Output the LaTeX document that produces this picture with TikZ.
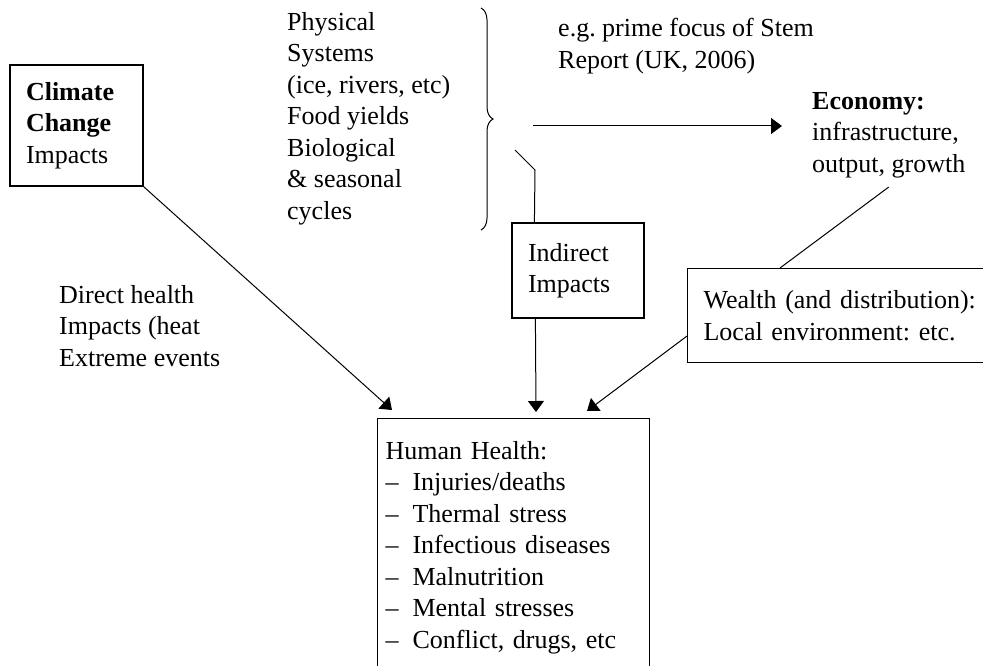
\documentclass[tikz,border=0pt]{standalone}
\usepackage{fontspec}
\setmainfont{Liberation Serif}
\usetikzlibrary{arrows.meta,decorations.pathreplacing}
\newcommand\hhdash{\makebox[27pt][l]{–}}
\frenchspacing
\begin{document}
\begin{tikzpicture}[x=1pt,y=-1pt,
  txt/.style={font=\fontsize{26}{31.5}\selectfont\frenchspacing, inner sep=0pt, align=left},
  box/.style={txt, draw, line width=1.2pt, inner xsep=16pt, inner ysep=0pt},
  conn/.style={line width=1pt},
  arr/.style={conn, -{Triangle[length=11pt,width=16pt]}}]
\useasboundingbox (0,0) rectangle (983,666);
\clip (0,0) rectangle (983,666);
\fill[white] (0,0) rectangle (983,666);

% boxes
\node[box, minimum width=133pt, minimum height=121pt, text width=101pt] (clim) at (76.5,125.5)
  {\textbf{Climate}\\\textbf{Change}\\Impacts};
\node[box, minimum width=132pt, minimum height=95pt, text width=100pt] (ind) at (578,270.5)
  {Indirect\\Impacts};
\node[box, anchor=north west, text width=300pt, minimum height=94pt] (wealth) at (687,268)
  {Wealth (and distribution):\\Local environment: etc.};
\node[box, anchor=north west, inner xsep=8pt, text width=256pt, minimum height=258pt] (hh) at (377,418)
  {Human Health:\\\hhdash Injuries/deaths\\\hhdash Thermal stress\\\hhdash Infectious diseases\\\hhdash Malnutrition\\\hhdash Mental stresses\\\hhdash Conflict, drugs, etc};

% free texts
\node[txt, anchor=west] (phys) at (287,118.5)
  {Physical\\Systems\\(ice, rivers, etc)\\Food yields\\Biological\\\& seasonal\\cycles};
\node[txt, anchor=west] (eg) at (558,46) {e.g. prime focus of Stem\\Report (UK, 2006)};
\node[txt, anchor=west] (econ) at (812,135) {\textbf{Economy:}\\infrastructure,\\output, growth};
\node[txt, anchor=west] (direct) at (59,326) {Direct health\\Impacts (heat\\Extreme events};

% brace
\draw[line width=1pt, decorate, decoration={brace, amplitude=12pt}] (481,8) -- (481,230);

% connectors
\coordinate (hstart) at (533,126);
\coordinate (hend) at (782,126);
\draw[arr] (hstart) -- (hend);

\coordinate (tick) at (515,150);
\draw[conn] (tick) -- ++(20,20) -- ([xshift=23pt]ind.north west);

\draw[arr] (clim.south east) -- ([xshift=15pt,yshift=8pt]hh.north west);
\draw[arr] ([xshift=24pt]ind.south west) -- ([xshift=159pt,yshift=6pt]hh.north west);
\draw[arr] ([yshift=-68pt]wealth.north west) -- ([xshift=210pt,yshift=7pt]hh.north west);
\draw[conn] ([yshift=-9pt]econ.south) -- ([xshift=93pt]wealth.north west);
\end{tikzpicture}
\end{document}
